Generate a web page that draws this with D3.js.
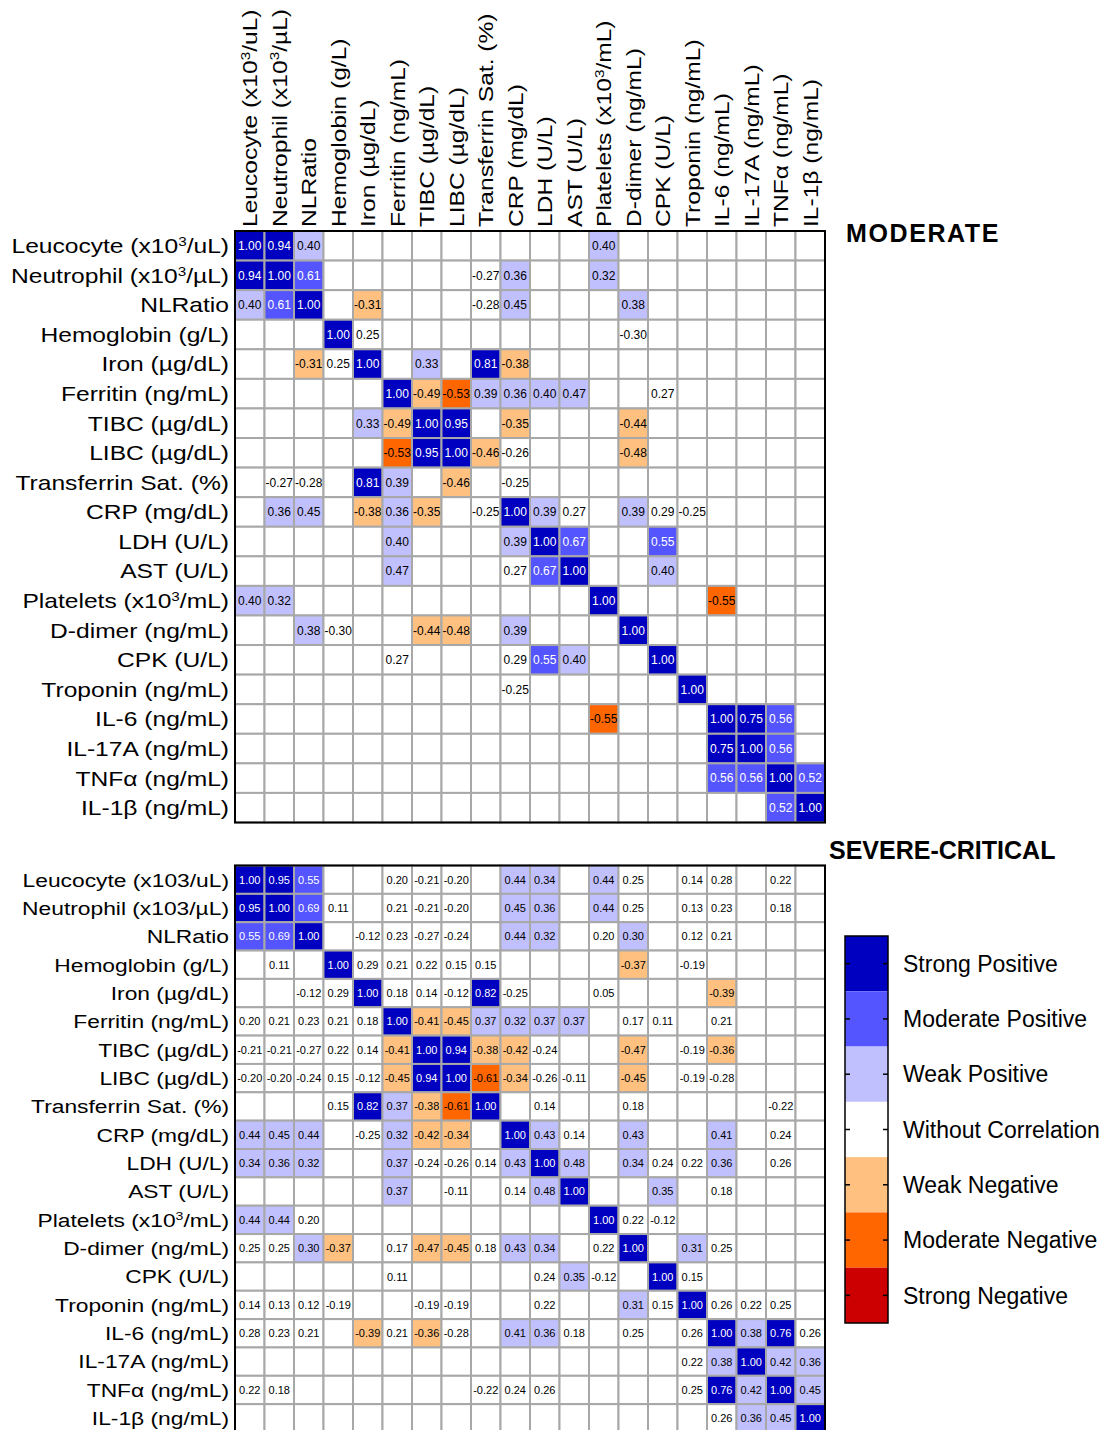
<!DOCTYPE html>
<html>
<head>
<meta charset="utf-8">
<script src="https://cdn.jsdelivr.net/npm/d3@7"></script>
<style>
  body { margin: 0; background: #fff; }
  svg { display: block; }
  text { font-family: "Liberation Sans", Arial, Helvetica, sans-serif; fill: #000; }
</style>
</head>
<body>
<svg id="chart" width="1106" height="1430"></svg>
<script>
// Variable names; {3} marks a superscript.
const headerLabels = [
  "Leucocyte (x10{3}/uL)", "Neutrophil (x10{3}/µL)", "NLRatio", "Hemoglobin (g/L)",
  "Iron (µg/dL)", "Ferritin (ng/mL)", "TIBC (µg/dL)", "LIBC (µg/dL)",
  "Transferrin Sat. (%)", "CRP (mg/dL)", "LDH (U/L)", "AST (U/L)",
  "Platelets (x10{3}/mL)", "D-dimer (ng/mL)", "CPK (U/L)", "Troponin (ng/mL)",
  "IL-6 (ng/mL)", "IL-17A (ng/mL)", "TNFα (ng/mL)", "IL-1β (ng/mL)"
];
const moderateRowLabels = headerLabels.slice();
const severeRowLabels = [
  "Leucocyte (x103/uL)", "Neutrophil (x103/µL)", "NLRatio", "Hemoglobin (g/L)",
  "Iron (µg/dL)", "Ferritin (ng/mL)", "TIBC (µg/dL)", "LIBC (µg/dL)",
  "Transferrin Sat. (%)", "CRP (mg/dL)", "LDH (U/L)", "AST (U/L)",
  "Platelets (x10{3}/mL)", "D-dimer (ng/mL)", "CPK (U/L)", "Troponin (ng/mL)",
  "IL-6 (ng/mL)", "IL-17A (ng/mL)", "TNFα (ng/mL)", "IL-1β (ng/mL)"
];

const n = null;
// Spearman coefficients, moderate group (null = not significant)
const moderateValues = [
  [1.00,0.94,0.40,n,n,n,n,n,n,n,n,n,0.40,n,n,n,n,n,n,n],
  [0.94,1.00,0.61,n,n,n,n,n,-0.27,0.36,n,n,0.32,n,n,n,n,n,n,n],
  [0.40,0.61,1.00,n,-0.31,n,n,n,-0.28,0.45,n,n,n,0.38,n,n,n,n,n,n],
  [n,n,n,1.00,0.25,n,n,n,n,n,n,n,n,-0.30,n,n,n,n,n,n],
  [n,n,-0.31,0.25,1.00,n,0.33,n,0.81,-0.38,n,n,n,n,n,n,n,n,n,n],
  [n,n,n,n,n,1.00,-0.49,-0.53,0.39,0.36,0.40,0.47,n,n,0.27,n,n,n,n,n],
  [n,n,n,n,0.33,-0.49,1.00,0.95,n,-0.35,n,n,n,-0.44,n,n,n,n,n,n],
  [n,n,n,n,n,-0.53,0.95,1.00,-0.46,-0.26,n,n,n,-0.48,n,n,n,n,n,n],
  [n,-0.27,-0.28,n,0.81,0.39,n,-0.46,n,-0.25,n,n,n,n,n,n,n,n,n,n],
  [n,0.36,0.45,n,-0.38,0.36,-0.35,n,-0.25,1.00,0.39,0.27,n,0.39,0.29,-0.25,n,n,n,n],
  [n,n,n,n,n,0.40,n,n,n,0.39,1.00,0.67,n,n,0.55,n,n,n,n,n],
  [n,n,n,n,n,0.47,n,n,n,0.27,0.67,1.00,n,n,0.40,n,n,n,n,n],
  [0.40,0.32,n,n,n,n,n,n,n,n,n,n,1.00,n,n,n,-0.55,n,n,n],
  [n,n,0.38,-0.30,n,n,-0.44,-0.48,n,0.39,n,n,n,1.00,n,n,n,n,n,n],
  [n,n,n,n,n,0.27,n,n,n,0.29,0.55,0.40,n,n,1.00,n,n,n,n,n],
  [n,n,n,n,n,n,n,n,n,-0.25,n,n,n,n,n,1.00,n,n,n,n],
  [n,n,n,n,n,n,n,n,n,n,n,n,-0.55,n,n,n,1.00,0.75,0.56,n],
  [n,n,n,n,n,n,n,n,n,n,n,n,n,n,n,n,0.75,1.00,0.56,n],
  [n,n,n,n,n,n,n,n,n,n,n,n,n,n,n,n,0.56,0.56,1.00,0.52],
  [n,n,n,n,n,n,n,n,n,n,n,n,n,n,n,n,n,n,0.52,1.00]
];

// Spearman coefficients, severe-critical group
const severeValues = [
  [1.00,0.95,0.55,n,n,0.20,-0.21,-0.20,n,0.44,0.34,n,0.44,0.25,n,0.14,0.28,n,0.22,n],
  [0.95,1.00,0.69,0.11,n,0.21,-0.21,-0.20,n,0.45,0.36,n,0.44,0.25,n,0.13,0.23,n,0.18,n],
  [0.55,0.69,1.00,n,-0.12,0.23,-0.27,-0.24,n,0.44,0.32,n,0.20,0.30,n,0.12,0.21,n,n,n],
  [n,0.11,n,1.00,0.29,0.21,0.22,0.15,0.15,n,n,n,n,-0.37,n,-0.19,n,n,n,n],
  [n,n,-0.12,0.29,1.00,0.18,0.14,-0.12,0.82,-0.25,n,n,0.05,n,n,n,-0.39,n,n,n],
  [0.20,0.21,0.23,0.21,0.18,1.00,-0.41,-0.45,0.37,0.32,0.37,0.37,n,0.17,0.11,n,0.21,n,n,n],
  [-0.21,-0.21,-0.27,0.22,0.14,-0.41,1.00,0.94,-0.38,-0.42,-0.24,n,n,-0.47,n,-0.19,-0.36,n,n,n],
  [-0.20,-0.20,-0.24,0.15,-0.12,-0.45,0.94,1.00,-0.61,-0.34,-0.26,-0.11,n,-0.45,n,-0.19,-0.28,n,n,n],
  [n,n,n,0.15,0.82,0.37,-0.38,-0.61,1.00,n,0.14,n,n,0.18,n,n,n,n,-0.22,n],
  [0.44,0.45,0.44,n,-0.25,0.32,-0.42,-0.34,n,1.00,0.43,0.14,n,0.43,n,n,0.41,n,0.24,n],
  [0.34,0.36,0.32,n,n,0.37,-0.24,-0.26,0.14,0.43,1.00,0.48,n,0.34,0.24,0.22,0.36,n,0.26,n],
  [n,n,n,n,n,0.37,n,-0.11,n,0.14,0.48,1.00,n,n,0.35,n,0.18,n,n,n],
  [0.44,0.44,0.20,n,n,n,n,n,n,n,n,n,1.00,0.22,-0.12,n,n,n,n,n],
  [0.25,0.25,0.30,-0.37,n,0.17,-0.47,-0.45,0.18,0.43,0.34,n,0.22,1.00,n,0.31,0.25,n,n,n],
  [n,n,n,n,n,0.11,n,n,n,n,0.24,0.35,-0.12,n,1.00,0.15,n,n,n,n],
  [0.14,0.13,0.12,-0.19,n,n,-0.19,-0.19,n,n,0.22,n,n,0.31,0.15,1.00,0.26,0.22,0.25,n],
  [0.28,0.23,0.21,n,-0.39,0.21,-0.36,-0.28,n,0.41,0.36,0.18,n,0.25,n,0.26,1.00,0.38,0.76,0.26],
  [n,n,n,n,n,n,n,n,n,n,n,n,n,n,n,0.22,0.38,1.00,0.42,0.36],
  [0.22,0.18,n,n,n,n,n,n,-0.22,0.24,0.26,n,n,n,n,0.25,0.76,0.42,1.00,0.45],
  [n,n,n,n,n,n,n,n,n,n,n,n,n,n,n,n,0.26,0.36,0.45,1.00]
];

// Strength classes, top to bottom in the legend
const strengthClasses = [
  "Strong Positive", "Moderate Positive", "Weak Positive", "Without Correlation",
  "Weak Negative", "Moderate Negative", "Strong Negative"
];
const strengthColors = ["#0000c0", "#5555ff", "#c0c0ff", "#ffffff", "#ffc080", "#ff6600", "#cc0000"];
const strengthCuts = [-0.7, -0.5, -0.3, 0.3, 0.5, 0.7];

const svg = d3.select("#chart");
const fmt = d3.formatLocale({ decimal: ".", thousands: ",", grouping: [3], currency: ["", ""], minus: "-" }).format(".2f");

// value -> class name (classes listed from negative to positive for the threshold scale)
const classOf = d3.scaleThreshold()
  .domain(strengthCuts)
  .range(strengthClasses.slice().reverse());
const colorOf = d3.scaleOrdinal().domain(strengthClasses).range(strengthColors);
const lightText = new Set(["Strong Positive", "Moderate Positive"]);

const LABEL_STRETCH = 1.2;

// writes "abc{3}def" as text with a superscript tspan
function writeLabel(sel, label, size) {
  const parts = label.split(/\{(\d)\}/);
  parts.forEach((p, i) => {
    if (!p) return;
    if (i % 2 === 1) {
      sel.append("tspan").attr("baseline-shift", "super").attr("font-size", size * 0.62).text(p);
    } else {
      sel.append("tspan").text(p);
    }
  });
}

function drawMatrix(values, rowLabels, x, y, opts) {
  const g = svg.append("g");
  const idx = d3.range(values.length);
  const cells = [];
  values.forEach((row, i) => row.forEach((v, j) => cells.push({ i, j, v })));

  const cell = g.selectAll("g.cell").data(cells).join("g").attr("class", "cell");
  cell.append("rect")
    .attr("x", d => x(d.j))
    .attr("y", d => y(d.i))
    .attr("width", x.bandwidth())
    .attr("height", y.bandwidth())
    .attr("fill", d => d.v == null ? "#ffffff" : colorOf(classOf(d.v)))
    .attr("stroke", "#a8a8a8")
    .attr("stroke-width", 2);
  cell.filter(d => d.v != null).append("text")
    .attr("x", d => x(d.j) + x.bandwidth() / 2)
    .attr("y", d => y(d.i) + y.bandwidth() / 2)
    .attr("dy", "0.36em")
    .attr("text-anchor", "middle")
    .attr("font-size", opts.valueSize)
    .style("fill", d => lightText.has(classOf(d.v)) ? "#ffffff" : "#000000")
    .text(d => fmt(d.v));

  // outer frame
  g.append("rect")
    .attr("x", x.range()[0])
    .attr("y", y.range()[0])
    .attr("width", x.range()[1] - x.range()[0])
    .attr("height", y.range()[1] - y.range()[0])
    .attr("fill", "none")
    .attr("stroke", "#000")
    .attr("stroke-width", 2);

  // row labels
  g.selectAll("text.rowlab").data(idx).join("text")
    .attr("class", "rowlab")
    .attr("text-anchor", "end")
    .attr("font-size", opts.labelSize)
    .attr("transform", i => `translate(${x.range()[0] - 6},${y(i) + y.bandwidth() / 2}) scale(${LABEL_STRETCH},1)`)
    .attr("dy", "0.36em")
    .each(function (i) { writeLabel(d3.select(this), rowLabels[i], opts.labelSize); });
  return g;
}

const colX = d3.scaleBand().domain(d3.range(20)).range([235, 825]);
const modY = d3.scaleBand().domain(d3.range(20)).range([231, 822.5]);
const sevY = d3.scaleBand().domain(d3.range(20)).range([865.5, 865.5 + 20 * 28.35]);

drawMatrix(moderateValues, moderateRowLabels, colX, modY, { valueSize: 12, labelSize: 20.5 });
drawMatrix(severeValues, severeRowLabels, colX, sevY, { valueSize: 11, labelSize: 19 });

// column headers above the first matrix
svg.append("g").selectAll("text").data(d3.range(20)).join("text")
  .attr("font-size", 20.5)
  .attr("text-anchor", "start")
  .attr("dy", "0.36em")
  .attr("transform", j => `translate(${colX(j) + colX.bandwidth() / 2},227) rotate(-90) scale(${LABEL_STRETCH},1)`)
  .each(function (j) { writeLabel(d3.select(this), headerLabels[j], 20.5); });

// panel titles
svg.append("text").attr("x", 846).attr("y", 242)
  .attr("font-size", 25).attr("font-weight", "bold")
  .attr("letter-spacing", 1.6).text("MODERATE");
svg.append("text").attr("x", 829).attr("y", 859)
  .attr("font-size", 25).attr("font-weight", "bold").text("SEVERE-CRITICAL");

// legend
const legY = d3.scaleBand().domain(strengthClasses).range([936, 1323]);
const leg = svg.append("g");
const legX0 = 845, legW = 43;
leg.selectAll("rect.sw").data(strengthClasses).join("rect")
  .attr("class", "sw")
  .attr("x", legX0).attr("y", d => legY(d))
  .attr("width", legW).attr("height", legY.bandwidth())
  .attr("fill", d => colorOf(d));
leg.append("rect")
  .attr("x", legX0).attr("y", legY.range()[0])
  .attr("width", legW).attr("height", legY.range()[1] - legY.range()[0])
  .attr("fill", "none").attr("stroke", "#000").attr("stroke-width", 1.5);
leg.selectAll("line.tl").data(strengthClasses).join("line")
  .attr("x1", legX0).attr("x2", legX0 + 5)
  .attr("y1", d => legY(d) + legY.bandwidth() / 2).attr("y2", d => legY(d) + legY.bandwidth() / 2)
  .attr("stroke", "#000").attr("stroke-width", 1.5);
leg.selectAll("line.tr").data(strengthClasses).join("line")
  .attr("x1", legX0 + legW - 5).attr("x2", legX0 + legW)
  .attr("y1", d => legY(d) + legY.bandwidth() / 2).attr("y2", d => legY(d) + legY.bandwidth() / 2)
  .attr("stroke", "#000").attr("stroke-width", 1.5);
leg.selectAll("text").data(strengthClasses).join("text")
  .attr("x", 903)
  .attr("y", d => legY(d) + legY.bandwidth() / 2)
  .attr("dy", "0.36em")
  .attr("font-size", 23)
  .text(d => d);
</script>
</body>
</html>
